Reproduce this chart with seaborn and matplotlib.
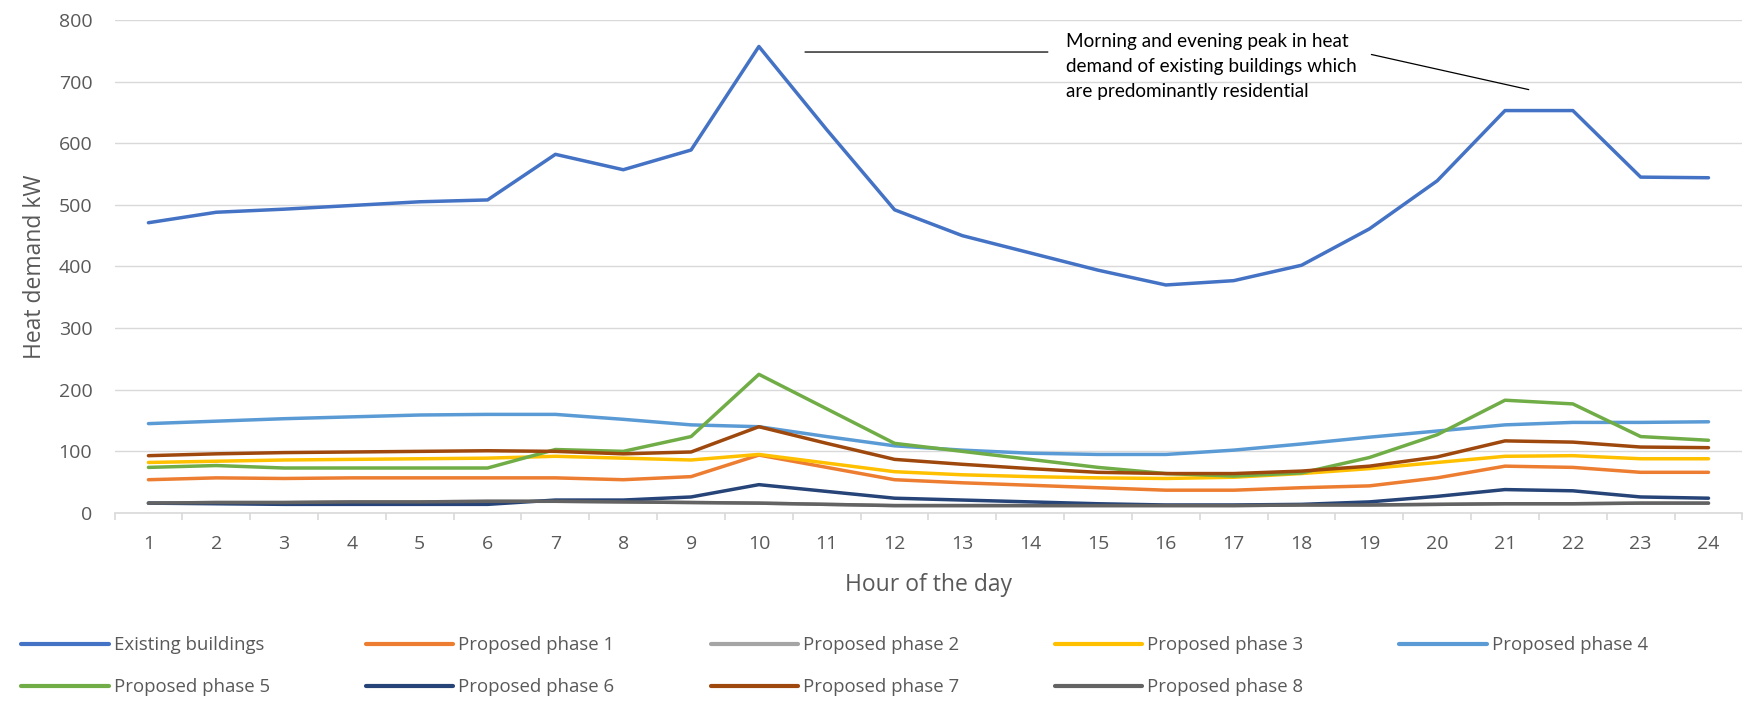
import matplotlib
matplotlib.use("Agg")
import matplotlib.pyplot as plt
import numpy as np
import pandas as pd
import seaborn as sns
from matplotlib.ticker import FixedLocator

# Hourly heat demand (kW) per building group
hours = list(range(1, 25))
existing = [471, 488, 493, 499, 505, 508, 582, 557, 589, 757, 622, 492,
            450, 422, 394, 370, 377, 402, 461, 539, 653, 653, 545, 544]
phase1 = [54, 57, 56, 57, 57, 57, 57, 54, 59, 94, 74, 54,
          49, 45, 41, 37, 37, 41, 44, 57, 76, 74, 66, 66]
phase2 = [16, 17, 17, 18, 18, 19, 19, 18, 17, 16, 14, 12,
          12, 12, 12, 12, 12, 13, 13, 14, 15, 15, 16, 16]
phase3 = [82, 84, 86, 87, 88, 89, 92, 89, 86, 95, 81, 67,
          62, 59, 57, 56, 58, 64, 72, 82, 92, 93, 88, 88]
phase4 = [145, 149, 153, 156, 159, 160, 160, 152, 143, 140, 124, 109,
          102, 97, 95, 95, 102, 112, 123, 133, 143, 147, 147, 148]
phase5 = [74, 77, 73, 73, 73, 73, 103, 100, 124, 225, 169, 113,
          100, 87, 74, 64, 60, 65, 90, 127, 183, 177, 124, 118]
phase6 = [16, 15, 14, 14, 14, 14, 21, 21, 26, 46, 35, 24,
          21, 18, 15, 13, 13, 14, 18, 27, 38, 36, 26, 24]
phase7 = [93, 96, 98, 99, 100, 101, 100, 96, 99, 140, 113, 87,
          79, 72, 66, 64, 64, 68, 76, 91, 117, 115, 107, 106]
phase8 = [16, 17, 17, 18, 18, 19, 19, 18, 17, 16, 14, 12,
          12, 12, 12, 12, 12, 13, 13, 14, 15, 15, 16, 16]

series_names = ["Existing buildings", "Proposed phase 1", "Proposed phase 2",
                "Proposed phase 3", "Proposed phase 4", "Proposed phase 5",
                "Proposed phase 6", "Proposed phase 7", "Proposed phase 8"]
series_values = [existing, phase1, phase2, phase3, phase4,
                 phase5, phase6, phase7, phase8]
colors = ["#4472C4", "#ED7D31", "#A5A5A5", "#FFC000", "#5B9BD5",
          "#70AD47", "#264478", "#9E480E", "#636363"]

df = pd.DataFrame({
    "hour": np.tile(hours, len(series_names)),
    "demand": np.concatenate(series_values),
    "series": np.repeat(series_names, len(hours)),
})

sns.set_theme(style="white")
plt.rcParams["font.family"] = ["Open Sans", "DejaVu Sans"]

fig = plt.figure(figsize=(17.51, 7.01), dpi=100)
ax = fig.add_axes([0.0654, 0.2682, 0.9297, 0.7033])

sns.lineplot(data=df, x="hour", y="demand", hue="series",
             hue_order=series_names, palette=colors, linewidth=2.5,
             ax=ax, legend=True, sort=False)
for ln in ax.get_lines():
    ln.set_solid_capstyle("round")
    ln.set_solid_joinstyle("round")

ax.set_xlim(0.5, 24.5)
ax.set_ylim(0, 800)
ax.set_yticks(range(0, 801, 100))
ax.set_xticks(hours)
ax.xaxis.set_minor_locator(FixedLocator(np.arange(0.5, 24.6, 1)))
ax.grid(axis="y", color="#D9D9D9", linewidth=1.0)
ax.set_axisbelow(True)
for side in ["top", "right", "left"]:
    ax.spines[side].set_visible(False)
ax.spines["bottom"].set_color("#D9D9D9")
ax.spines["bottom"].set_linewidth(1.2)

ax.tick_params(axis="y", which="both", length=0, pad=16,
               labelsize=14, labelcolor="#595959")
ax.tick_params(axis="x", which="major", length=0, pad=16,
               labelsize=14, labelcolor="#595959")
ax.tick_params(axis="x", which="minor", bottom=True, length=5,
               width=1.2, color="#D9D9D9", direction="out")

ax.set_xlabel("Hour of the day", fontsize=16.5, color="#595959", labelpad=14.5)
ax.set_ylabel("Heat demand kW", fontsize=16.5, color="#595959", labelpad=8.5)

# Annotation text with its two connector lines
ax.annotate("", xy=(10.68, 748), xytext=(14.26, 748),
            arrowprops=dict(arrowstyle="-", color="black", lw=0.9,
                            shrinkA=0, shrinkB=0))
ax.annotate("", xy=(19.03, 744), xytext=(21.35, 687),
            arrowprops=dict(arrowstyle="-", color="black", lw=0.9,
                            shrinkA=0, shrinkB=0))
ax.text(14.53, 724, "Morning and evening peak in heat\n"
        "demand of existing buildings which\n"
        "are predominantly residential",
        ha="left", va="center", fontsize=13.6, family=["Lato", "DejaVu Sans"],
        color="black", linespacing=1.56)

# Legend laid out row by row: five entries on top, four below
handles, labels = ax.get_legend_handles_labels()
ax.get_legend().remove()
for h in handles:
    h.set_linewidth(3)
order = [0, 5, 1, 6, 2, 7, 3, 8, 4]
fig.legend([handles[i] for i in order], [labels[i] for i in order],
           loc="upper left", ncol=5,
           bbox_to_anchor=(0.008, 0.103), frameon=False,
           fontsize=13.4, labelcolor="#595959", handlelength=4.7,
           handletextpad=0.25, columnspacing=5.17, labelspacing=1.3,
           borderaxespad=0)

fig.savefig("out.png", dpi=100)
